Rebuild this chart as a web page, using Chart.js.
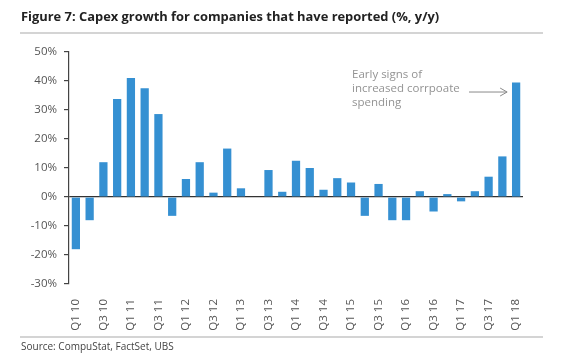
<!DOCTYPE html>
<html>
<head>
<meta charset="utf-8">
<script src="https://cdn.jsdelivr.net/npm/chart.js@4"></script>
<style>
  html, body { margin: 0; padding: 0; background: #fff; }
  #wrap { position: relative; width: 570px; height: 356px; overflow: hidden; font-family: "Open Sans", sans-serif; }
  #c { position: absolute; left: 0; top: 0; }
  #title { position: absolute; left: 21px; top: 7px; font-size: 12.9px; font-weight: bold; color: #222; white-space: nowrap; }
  #topline { position: absolute; left: 20px; top: 32px; width: 523px; height: 2px; background: #d4d4d4; }
  #botline { position: absolute; left: 20px; top: 336px; width: 523px; height: 2px; background: #d4d4d4; }
  #source { position: absolute; left: 21px; top: 339px; font-size: 10px; color: #444; white-space: nowrap; }
</style>
</head>
<body>
<div id="wrap">
  <canvas id="c" width="570" height="356"></canvas>
  <div id="title">Figure 7: Capex growth for companies that have reported (%, y/y)</div>
  <div id="topline"></div>
  <div id="botline"></div>
  <div id="source">Source: CompuStat, FactSet, UBS</div>
</div>
<script>
const quarters = [
  "Q1 10","Q2 10","Q3 10","Q4 10",
  "Q1 11","Q2 11","Q3 11","Q4 11",
  "Q1 12","Q2 12","Q3 12","Q4 12",
  "Q1 13","Q2 13","Q3 13","Q4 13",
  "Q1 14","Q2 14","Q3 14","Q4 14",
  "Q1 15","Q2 15","Q3 15","Q4 15",
  "Q1 16","Q2 16","Q3 16","Q4 16",
  "Q1 17","Q2 17","Q3 17","Q4 17",
  "Q1 18"
];
const capexGrowth = [
  -18, -8, 12, 33.8,
  41, 37.5, 28.6, -6.5,
  6.2, 12, 1.5, 16.7,
  3, 0, 9.3, 1.8,
  12.5, 10, 2.5, 6.5,
  5, -6.5, 4.5, -8,
  -8, 2, -5, 1,
  -1.5, 2, 7, 14,
  39.5
];
const yTicks = [-30, -20, -10, 0, 10, 20, 30, 40, 50];
const annotationLines = ["Early signs of", "increased corrpoate", "spending"];

const annotationPlugin = {
  id: 'note',
  afterDraw(chart) {
    const ctx = chart.ctx;
    const xs = chart.scales.x, ys = chart.scales.y;
    ctx.save();
    ctx.fillStyle = '#939393';
    ctx.font = '11.5px "Open Sans", sans-serif';
    ctx.textBaseline = 'alphabetic';
    const tx = 352;
    const bases = [78, 92, 106];
    annotationLines.forEach((t, i) => ctx.fillText(t, tx, bases[i]));
    // arrow
    const endX = xs.getPixelForValue(quarters.length - 1) - 9;
    const y = ys.getPixelForValue(36.2);
    const startX = 469;
    ctx.strokeStyle = '#8a8a8a';
    ctx.lineWidth = 1;
    ctx.beginPath();
    ctx.moveTo(startX, y);
    ctx.lineTo(endX, y);
    ctx.moveTo(endX - 7, y - 4);
    ctx.lineTo(endX, y);
    ctx.lineTo(endX - 7, y + 4);
    ctx.stroke();
    ctx.restore();
  }
};

new Chart(document.getElementById('c'), {
  type: 'bar',
  data: {
    labels: quarters,
    datasets: [{
      data: capexGrowth,
      backgroundColor: '#3590d2',
      borderWidth: 0,
      categoryPercentage: 1.0,
      barPercentage: 0.6
    }]
  },
  options: {
    responsive: false,
    devicePixelRatio: 1,
    animation: false,
    layout: { padding: { top: 52, right: 47, left: 0, bottom: 0 } },
    plugins: { legend: { display: false }, tooltip: { enabled: false }, title: { display: false } },
    scales: {
      x: {
        grid: { display: false },
        border: { display: false },
        ticks: {
          autoSkip: false,
          minRotation: 90,
          maxRotation: 90,
          padding: 7,
          color: '#555',
          font: { family: '"Open Sans", sans-serif', size: 11.5 },
          callback: (v, i) => (i % 2 === 0 ? quarters[i] : '')
        },
        afterFit: s => { s.height = 72; }
      },
      y: {
        min: -30,
        max: 50,
        afterBuildTicks: s => { s.ticks = yTicks.map(v => ({ value: v })); },
        grid: {
          drawOnChartArea: true,
          drawTicks: true,
          tickLength: 5,
          tickColor: '#444',
          lineWidth: 1.2,
          color: c => (c.tick && c.tick.value === 0 ? '#333' : 'rgba(0,0,0,0)')
        },
        border: { display: true, color: '#444', width: 1.2 },
        ticks: {
          padding: 7,
          color: '#555',
          font: { family: '"Open Sans", sans-serif', size: 11.5 },
          callback: v => v + '%'
        },
        afterFit: s => { s.width = 69; }
      }
    }
  },
  plugins: [annotationPlugin]
});
</script>
</body>
</html>
